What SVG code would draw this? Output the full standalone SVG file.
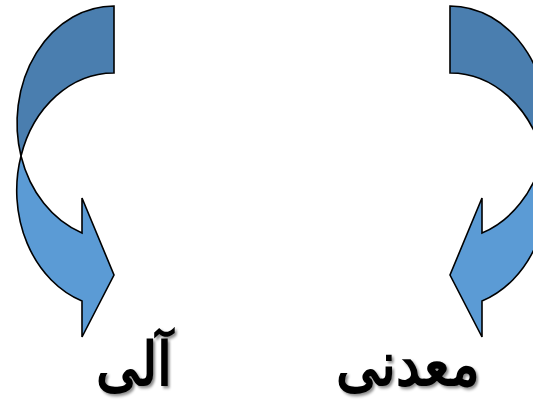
<svg xmlns="http://www.w3.org/2000/svg" width="533" height="408" viewBox="0 0 533 408">
<defs>
<style>
.back{fill:#4A7EAF;stroke:#000;stroke-width:1.6;stroke-linejoin:miter}
.front{fill:#5B9BD5;stroke:#000;stroke-width:1.6;stroke-linejoin:miter}
.lbl{font-family:"Liberation Serif",serif;font-size:54px;font-weight:bold;fill:#000;text-anchor:middle}
</style>
<filter id="sh" x="-20%" y="-20%" width="140%" height="140%">
<feDropShadow dx="2" dy="2" stdDeviation="1.2" flood-color="#000" flood-opacity="0.45"/>
</filter>
<g id="arrowShape">
<path class="back" d="M114,6 A97,117 0 0 0 21,156 A97,117 0 0 1 114,73 Z"/>
<path class="front" d="M21,156 A97,117 0 0 0 82,301 L82,337 L114,275 L82,198 L82,233 A97,117 0 0 1 21,156 Z"/>
</g>
</defs>
<g id="arrow-left"><use href="#arrowShape"/></g>
<g id="arrow-right"><use href="#arrowShape" transform="matrix(-1 0 0 1 564 0)"/></g>
<g id="label-organic"><text class="lbl" transform="translate(134,385) scale(1,1.12)" filter="url(#sh)">آلی</text></g>
<g id="label-mineral"><text class="lbl" transform="translate(408,385) scale(1,1.12)" filter="url(#sh)">معدنی</text></g>
</svg>
